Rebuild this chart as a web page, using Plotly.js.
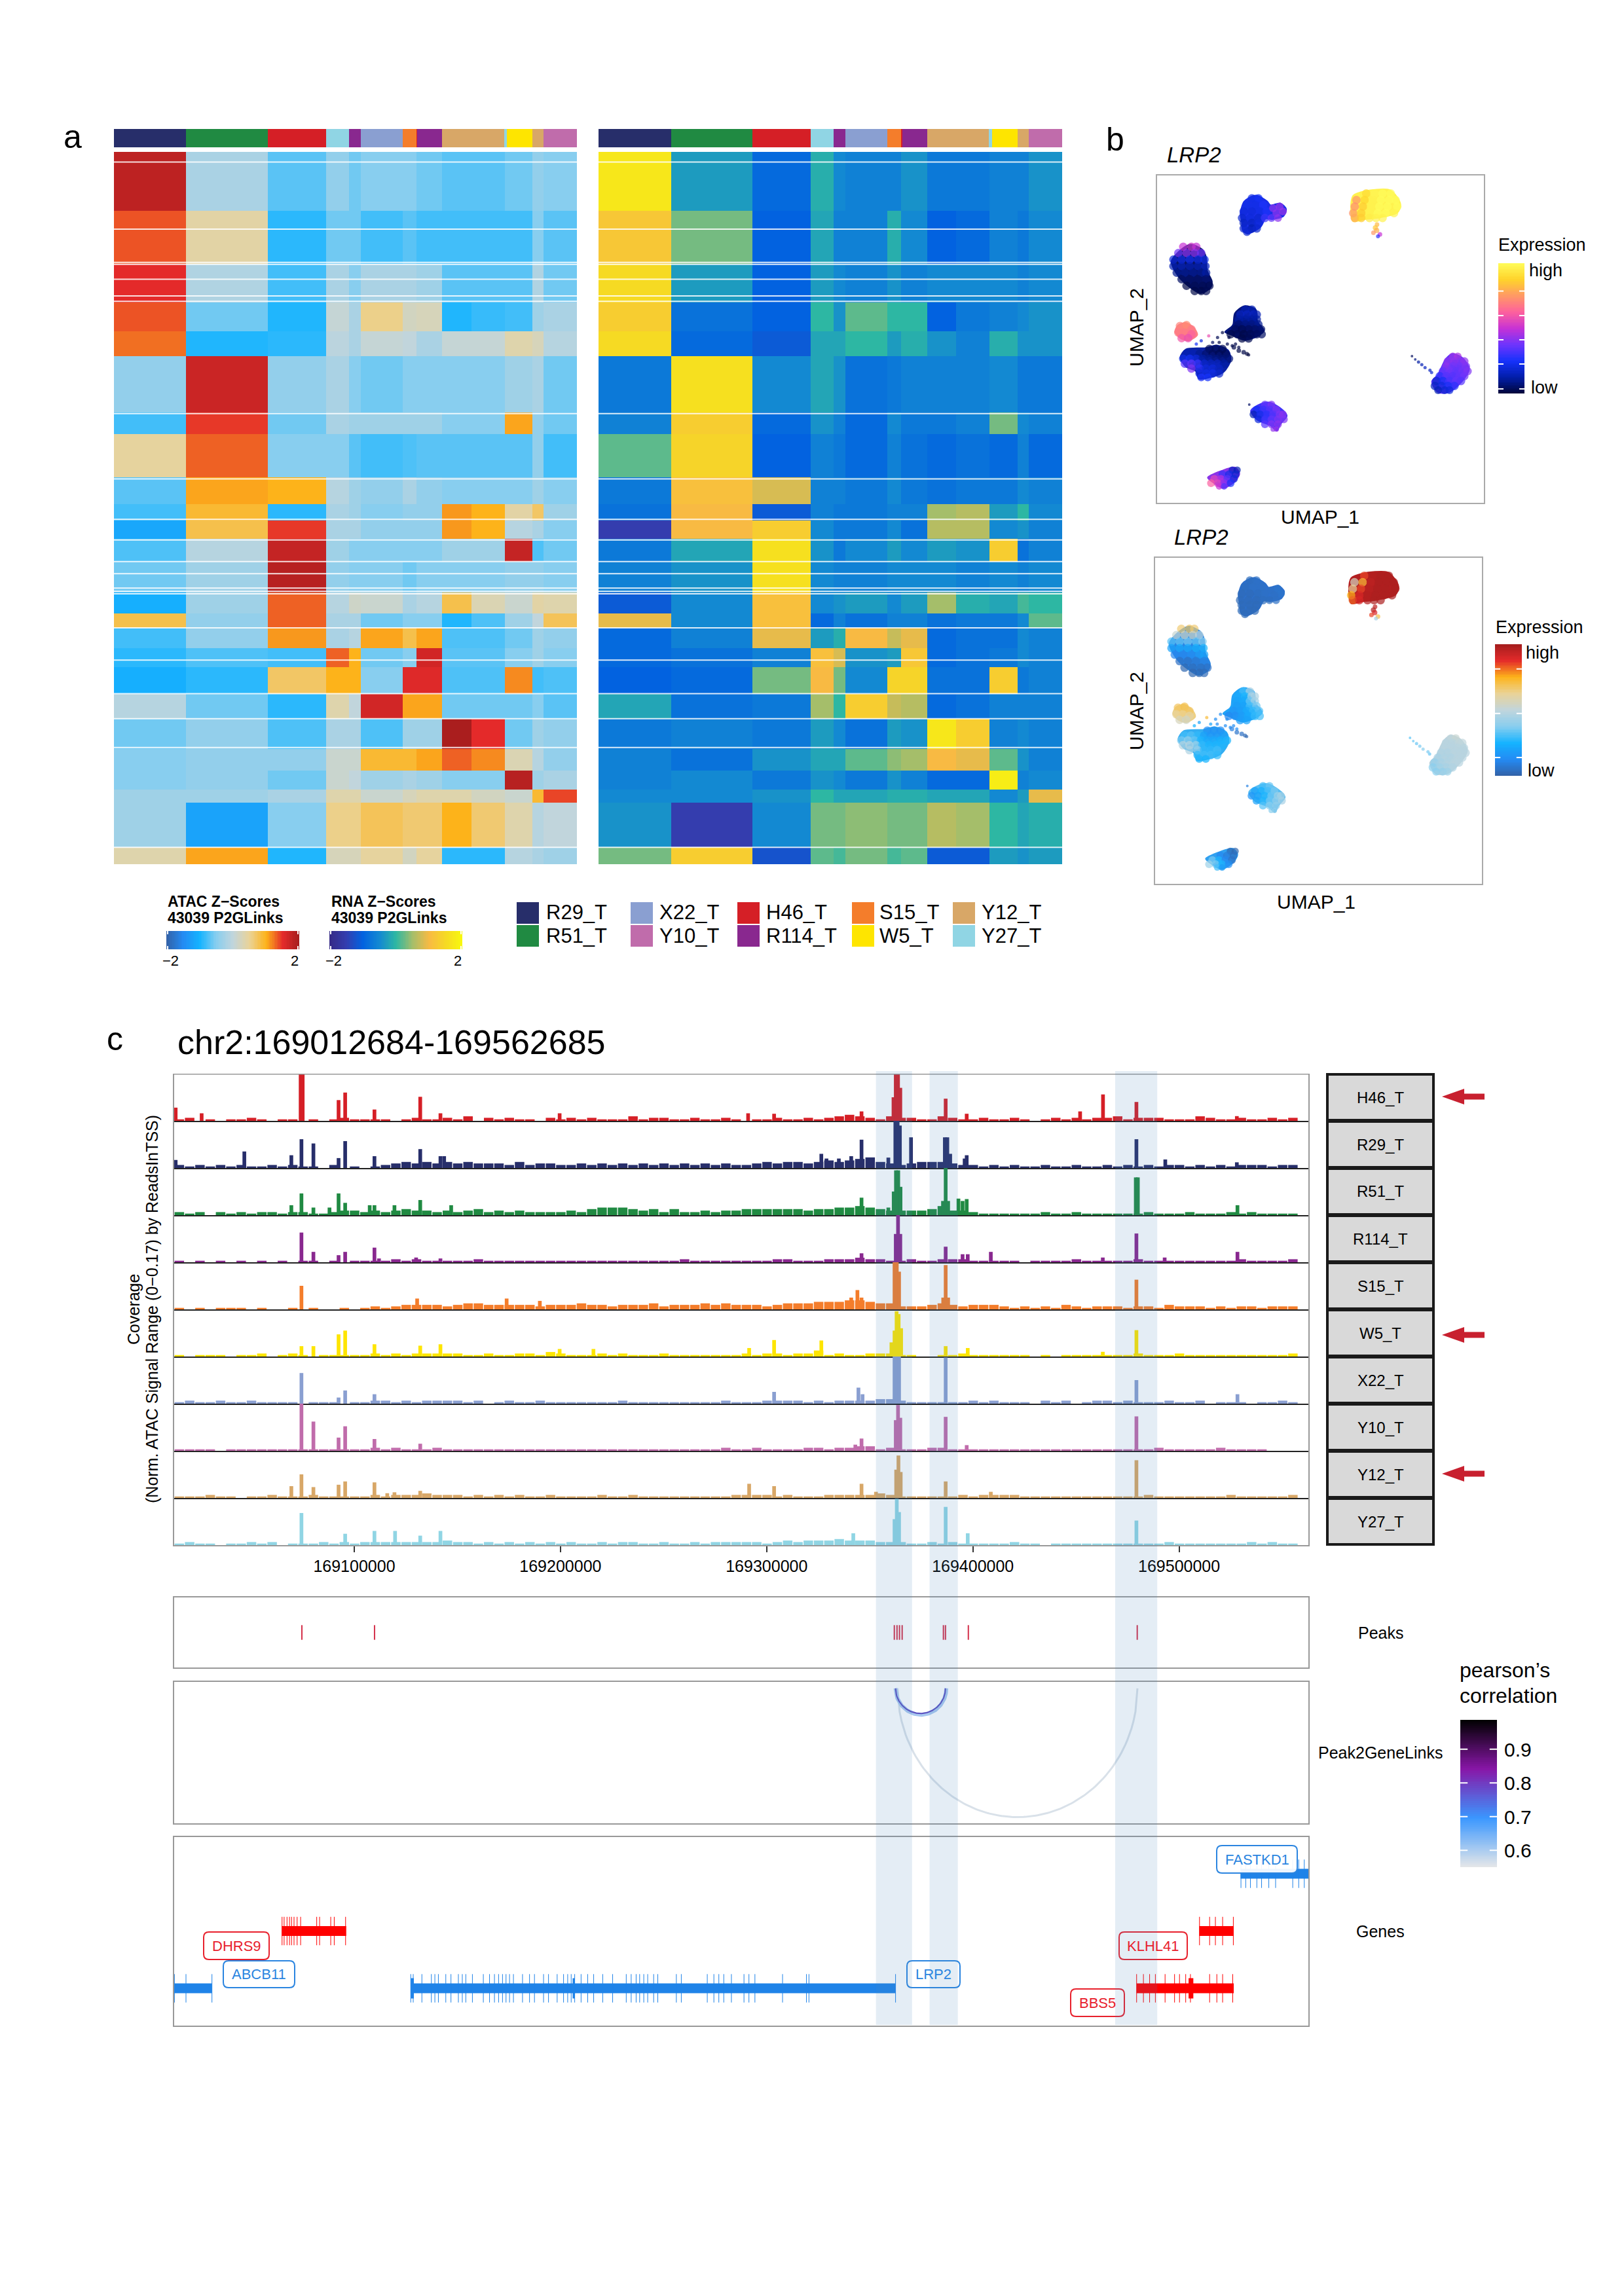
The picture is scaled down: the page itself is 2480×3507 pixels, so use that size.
<!DOCTYPE html>
<html><head><meta charset="utf-8">
<script src="https://cdn.plot.ly/plotly-3.0.1.min.js"></script>
<style>html,body{margin:0;padding:0;background:#fff}#g{width:2480px;height:3507px}</style></head>
<body><div id="g"></div>
<script>
/* ---------- samples ---------- */
const sampleNames=['R29_T','R51_T','X22_T','Y10_T','H46_T','R114_T','S15_T','W5_T','Y12_T','Y27_T'];
const sampleColors=['#272E6A','#208A42','#8A9FD1','#C06CAB','#D51F26','#89288F','#F47D2B','#FEE500','#D8A767','#90D5E4'];
/* ---------- panel a: column annotation ---------- */
const annotWidths=[117,132,94,37,19,68,22,2,40,100,5,41,18,54];
const annotSamples=[0,1,4,9,5,2,6,4,5,8,9,7,8,3];
const heatColWidths=[117,132,94,37,19,68,22,42,47,54,45,18,54];
const heatRowEdges=[57,180,290,370,430,482,600,645,735,790,825,862,910,975,1018,1048,1090,1130,1185,1237,1300,1345,1385,1412,1505,1540];
const heatGaps=[78,218,287,291,322,357,368,602,738,822,865,910,935,965,972,977,1048,1115,1185,1237,1297,1505];
const atacZ=[
[1.8,-.2,-.7,-.4,-.6,-.5,-.5,-.6,-.7,-.7,-.6,-.4,-.5],
[1.35,.4,-.9,-.6,-.6,-.8,-.7,-.8,-.8,-.8,-.8,-.5,-.7],
[1.5,-.15,-.8,-.2,-.5,-.2,-.2,-.3,-.7,-.7,-.7,-.15,-.6],
[1.35,-.6,-.95,.05,-.2,.55,.2,.25,-.95,-.85,-.8,-.3,-.2],
[1.25,-.95,-.9,-.05,-.2,.05,0,-.2,.05,.05,.35,.25,-.1],
[-.4,1.7,-.4,-.2,-.5,-.6,-.5,-.5,-.5,-.5,-.3,-.2,-.6],
[-.8,1.45,-.6,-.2,-.3,-.3,-.3,-.3,-.5,-.5,1.05,-.4,-.6],
[.45,1.3,-.5,-.5,-.7,-.8,-.75,-.7,-.7,-.7,-.7,-.4,-.8],
[-.7,1.05,1,-.1,-.3,-.4,-.2,-.4,-.5,-.5,-.5,-.3,-.5],
[-.8,.9,-.9,-.2,-.3,-.5,-.4,-.4,1.1,1,.4,.7,-.3],
[-1.15,.8,1.45,-.2,-.2,-.4,-.4,-.4,1.1,1,-.1,-.2,-.5],
[-.75,-.1,1.75,-.3,-.5,-.5,-.5,-.5,-.3,-.3,1.75,-.75,-.6],
[-.6,-.3,1.85,-.4,-.5,-.5,-.6,-.5,-.5,-.5,-.4,-.4,-.5],
[-1.05,-.3,1.3,-.1,.15,.1,-.2,-.1,.8,.3,.1,.4,.35],
[.8,-.4,1.3,-.2,-.2,-.6,-.5,-.5,-.95,-.75,-.3,0,.75],
[-.8,-.4,1.1,-.2,-.1,1.05,.8,1.05,-.75,-.75,-.6,-.3,-.4],
[-.9,-.75,-.8,1.3,1,-.6,-.5,1.65,-.7,-.7,-.5,-.3,-.5],
[-1.05,-.9,.7,1,1,-.5,1.55,1.55,-.75,-.75,1.15,-.8,-.75],
[-.1,-.6,-.9,.35,0,1.65,1.05,1.05,-.6,-.6,-.6,-.5,-.7],
[-.6,-.4,-.75,-.2,-.2,-.75,-.3,-.3,1.95,1.5,-.6,-.3,-.4],
[-.5,-.4,-.4,.1,.1,.9,.9,1.05,1.3,1.15,.3,-.1,-.4],
[-.5,-.4,-.6,.1,0,-.3,-.2,-.3,-.5,-.5,1.85,-.3,-.2],
[-.3,-.3,-.2,.35,.35,.1,.25,.35,.35,.2,.1,.9,1.4],
[-.3,-1.2,-.5,.55,.55,.75,.65,.65,1,.65,.35,-.1,0],
[.35,1.05,-.95,.25,.25,.45,.2,.45,-.9,-.9,-.1,-.2,-.3]];
const rnaZ=[
[1.7,-.3,-.9,-.1,-.5,-.6,-.6,-.4,-.7,-.7,-.6,-.6,-.4],
[1.2,.3,-1,-.2,-.6,-.6,-.1,-.5,-1,-.9,-.6,-.7,-.5],
[1.5,-.3,-1,-.3,-.5,-.6,-.4,-.6,-.5,-.5,-.5,-.6,-.5],
[1.3,-.8,-1,0,-.4,.2,0,0,-1,-.7,-.6,-.5,-.4],
[1.5,-.9,-1.1,-.2,-.2,0,-.3,-.1,-.4,-.6,-.1,-.4,-.4],
[-.7,1.6,-.5,-.2,-.4,-.8,-.7,-.6,-.6,-.6,-.5,-.7,-.7],
[-.6,1.3,-.9,-.4,-.6,-.9,-.5,-.7,-.7,-.6,.3,-.5,-.6],
[.2,1.4,-1,-.6,-.7,-.9,-.6,-.8,-.9,-.8,-.9,-.6,-.9],
[-.7,1.1,.8,-.6,-.6,-.7,-.5,-.7,-.8,-.7,-.7,-.5,-.6],
[-.8,1,-1.1,-.6,-.7,-.7,-.6,-.6,.5,.6,-.3,0,-.5],
[-1.5,1,1.3,-.5,-.7,-.7,-.5,-.8,.6,.6,-.5,-.4,-.6],
[-.7,-.2,1.6,-.4,-.7,-.5,-.3,-.5,-.3,-.4,1.3,-.8,-.6],
[-.6,-.4,1.6,-.5,-.6,-.6,-.5,-.5,-.5,-.6,-.5,-.6,-.5],
[-1.1,-.5,1.1,-.5,-.4,-.3,-.5,-.3,.5,-.1,-.2,.1,0],
[.9,-.5,1.1,-.9,-.6,-.8,-.6,-.6,-.8,-.7,-.7,-.5,.2],
[-.9,-.6,.9,-.3,-.1,1,.7,.9,-.9,-.8,-.8,-.5,-.6],
[-.9,-.8,-.6,1.1,.8,-.4,-.3,1.2,-.9,-.8,-.7,-.5,-.6],
[-1,-.9,.3,1,.3,-.5,1.4,1.4,-.8,-.8,1.3,-.7,-.6],
[-.2,-.8,-.7,.5,0,1.3,.7,.6,-.9,-.8,-.6,-.6,-.6],
[-.7,-.6,-.7,-.3,-.5,-.8,-.3,-.4,1.7,1.3,-.6,-.5,-.6],
[-.6,-.8,-.4,-.2,-.2,.2,.4,.5,1,.9,.2,-.4,-.6],
[-.6,-.5,-.7,-.4,-.5,-.7,-.4,-.6,-.9,-.9,1.8,-.6,-.5],
[-.5,-.5,-.4,0,-.2,-.2,-.1,-.1,-.2,-.2,-.5,-.3,.9],
[-.4,-1.5,-.5,.3,.3,.4,.3,.3,.6,.5,0,-.2,-.1],
[.3,1.3,-1.2,.2,.1,.3,.1,.2,-1.1,-1.1,-.3,-.4,-.3]];
const solarExtra=['#3361A5','#248AF3','#14B3FF','#88CEEF','#C1D5DC','#EAD397','#FDB31A','#E42A2A','#A31D1D'];
const blueYellow=['#352A86','#343DAE','#0262E0','#1389D2','#2DB7A3','#A5BE6A','#F8BA43','#F6DA23','#F8FA0D'];
const horizonExtra=['#000436','#021EA9','#1632FB','#6E34FC','#C732D5','#FD619D','#FF9965','#FFD32B','#FFFC5A'];
const comet=['#E6E7E8','#3A97FF','#8816A7','#000000'];
/* ---------- panel b: UMAP cluster outlines ---------- */
const clusterX=[
[59.3,60,63.5,71,73.5,74.5,73.5,68.5,63.5,60],
[25.5,26.7,30.2,33.7,34.7,37.7,39.5,38.7,35.2,33.2,31.7,27.7,26.2,25.9],
[4.4,7.4,10.3,13.8,15,15.3,16.8,16.3,13.3,9.8,6.4],
[5.5,6.4,8.8,11.3,12.3,9.8,7.4],
[23.3,23.8,26.7,30.2,30.7,32.7,30.7,26.7,22.8,20.8,22.8],
[7.1,8.8,14.8,18.3,21.8,22.5,20.3,15.3,12.8,11.8,8.8],
[84.1,85.9,88.4,90.4,93.3,95.5,93.3,89.4,85.9],
[28.7,31.7,34.7,38.7,39.7,37.7,36.7,34.7,30.7],
[15.5,19.8,23.8,25.2,23.8,20.3,17.3]];
const clusterY=[
[89.7,93.8,95.2,95.6,93.3,90.9,88.6,87.2,86.6,86],
[88.4,92.1,93.9,92.1,90.9,91.5,89.7,87.6,86.6,86.8,84.3,82.2,83.2,86],
[73.8,77.4,78.9,77.4,75,70.9,67.6,65.6,64,66,69.3],
[52.2,54.2,55,53.4,51.3,49.6,50.1],
[54.6,57.9,60.1,59,55.4,52.6,50.9,49.7,51.3,52.2,53.8],
[44.4,46.9,47.3,48.1,46.5,43.6,39.9,38.1,37.9,40.3,41.6],
[37.1,39.1,44,45.5,44.4,40.8,37.1,33.8,33.8],
[28.1,30.2,30.6,28.1,26.5,24,22,23.6,25.3],
[7.7,9.8,10.8,9,6.5,4.5,6.1]];
const clusterHorizon=['#fff24e','#1a2fe8','#071468','#fd7f84','#04157c','#0b22a6','#5a34f8','#4034f8','#8a34e8'];
const clusterSolar=['#b21f20','#2d70cc','#2a86e4','#eed084','#22a4f8','#34aef2','#bcd2dc','#58bdf2','#30a0f0'];
/* ---------- panel b: expression sampled over the clusters ---------- */
const umapX=[64,66.5,69,71.5, 61,63.5,66,68.5,71,73, 60.5,63,65.5,68,70.5,73.5, 60,62.5,65,67.5,70,72.5, 60.5,62.5,65,67,69,
 67.3,66.8,67.2,66.2,68.2,67.6,
 29,31, 27.5,30,32.5, 26.5,29,31.5,33.5, 26,28.5,31,33, 26.5,29,31, 26.5,29,30.5, 27.5, 35.5,37.5,38.5,36.5,35,37,
 8,10.5,12, 6.5,9,11.5,13.5, 5,7.5,10,12.5,14.5, 5,7.5,10,12.5,14.8, 6,8.5,11,13.5,15, 7.5,10,12.5,15, 9,11.5,14,16, 11.5,13.5,15,
 7,9,10.5,6.5,8.5,10.5,7.5,9.5,
 27,29, 25.5,27.5,29.5,30.5, 25,27,29,30.5, 25,27,29,31, 24,26,28,30,31.8, 22.5,24.5,26.5,28.5,30.5,32, 26,28,
 20,18.5,22,19,21.5,17,23,24,25,23.5,25,26.5,27.5,28,15.8,13.5,12,
 16,18,20, 9,11,13,15,17,19,21, 8,10,12,14,16,18,20,22, 8.5,10.5,12.5,14.5,16.5,18.5,20.5, 10.5,13,15,17,19, 13,15,17,19, 13.5,15.5,
 90.5,92, 89,91,93,94, 88.5,90.5,92.5,94.5, 87.5,89.5,91.5,93.5,95, 86.5,88.5,90.5,92.5,94, 85.5,87.5,89.5,91.5,93, 85,87,89,91, 86,88,89.5,
 78,79,80,81,82,83.5,84,
 33,35, 30.5,32.5,34.5,36.5, 29.5,31.5,33.5,35.5,37.5,38.5, 31,33,35,37,38.8, 33,35,37, 35.5,36.5, 28.2,
 23,24.5, 20,22,24, 17.5,19.5,21.5,23.5, 16.5,18.5,20.5,22.5, 19,20.5];
const umapY=[94.5,94.5,94.5,94.5, 92.5,92.5,92.5,92.5,92.5,92.5, 90.5,90.5,90.5,90.5,90.5,90.5, 88.5,88.5,88.5,88.5,88.5,88.5, 87,87,87,87,87,
 85,84,83.2,82.5,82,81.4,
 93,93, 91,91,91, 89,89,89,89, 87,87,87,87, 85.5,85.5,85.5, 83.8,83.8,83.8, 82.7, 90,90.5,89,88.5,87,87,
 78.2,78.2,78.2, 76.3,76.3,76.3,76.3, 74.3,74.3,74.3,74.3,74.3, 72.3,72.3,72.3,72.3,72.3, 70.3,70.3,70.3,70.3,70.3, 68.3,68.3,68.3,68.3, 66.3,66.3,66.3,66.3, 64.7,64.7,64.7,
 54,54.3,53,52,52,51.5,50.3,50.3,
 59,59, 57.5,57.5,57.5,57.5, 56,56,56,56, 54.5,54.5,54.5,54.5, 53,53,53,53,53, 51.5,51.5,51.5,51.5,51.5,51.5, 50.2,50.2,
 52,50.5,50.5,49,48.5,49,48,48.5,47.5,47.5,46.5,46,45.5,45.2,51,49.5,48.5,
 47,47,47, 45.5,45.5,45.5,45.5,45.5,45.5,45.5, 44,44,44,44,44,44,44,44, 42.5,42.5,42.5,42.5,42.5,42.5,42.5, 41,41,41,41,41, 39.5,39.5,39.5,39.5, 38.3,38.3,
 44.7,44.7, 43.2,43.2,43.2,43.2, 41.7,41.7,41.7,41.7, 40.2,40.2,40.2,40.2,40.2, 38.7,38.7,38.7,38.7,38.7, 37.2,37.2,37.2,37.2,37.2, 35.7,35.7,35.7,35.7, 34.4,34.4,34.4,
 44.8,43.8,43,42.2,41.3,40.5,39.8,
 30,30, 28.5,28.5,28.5,28.5, 27,27,27,27,27,27, 25.5,25.5,25.5,25.5,25.5, 24,24,24, 22.5,22.5, 30,
 10,10, 8.7,8.7,8.7, 7.3,7.3,7.3,7.3, 6,6,6,6, 5,5];
const umapSize=[13,13,13,13, 13,13,13,13,13,13, 13,13,13,13,13,13, 13,13,13,13,13,13, 13,13,13,13,13,
 7,8,8,7,7,6,
 13,13, 13,13,13, 13,13,13,13, 13,13,13,13, 13,13,13, 13,13,13, 12, 12,12,12,12,12,12,
 13,13,13, 13,13,13,13, 13,13,13,13,13, 13,13,13,13,13, 13,13,13,13,13, 13,13,13,13, 13,13,13,13, 13,13,13,
 13,13,13,13,13,13,13,13,
 13,13, 13,13,13,13, 13,13,13,13, 13,13,13,13, 13,13,13,13,13, 13,13,13,13,13,13, 13,13,
 5,5,5,5,5,5,5,5,5,7,7,7,6,5,5,5,5,
 13,13,13, 13,13,13,13,13,13,13, 13,13,13,13,13,13,13,13, 13,13,13,13,13,13,13, 13,13,13,13,13, 13,13,13,13, 12,12,
 12,12, 13,13,13,13, 13,13,13,13, 13,13,13,13,13, 13,13,13,13,13, 13,13,13,13,13, 13,13,13,13, 12,12,12,
 4,4,5,5,5,5,5,
 12,12, 12,12,12,12, 12,12,12,12,12,12, 12,12,12,12,12, 12,12,12, 8,8, 4,
 11,11, 12,12,12, 12,12,12,12, 12,12,12,12, 10,10];
const exprHorizon=[.9,.98,1,1, .74,.88,.97,1,1,1, .72,.86,.97,1,1,1, .74,.86,.97,1,1,.98, .78,.86,.95,.97,.97,
 .82,.85,.8,.75,.5,.28,
 .22,.24, .22,.22,.26, .2,.2,.22,.26, .18,.2,.18,.3, .16,.16,.2, .18,.14,.18, .18, .42,.44,.44,.42,.36,.42,
 .5,.52,.5, .38,.42,.42,.38, .2,.22,.24,.22,.22, .14,.15,.14,.14,.16, .1,.1,.1,.1,.12, .05,.05,.05,.06, .02,.03,.03,.03, .02,.02,.03,
 .7,.72,.68,.68,.68,.62,.6,.58,
 .14,.14, .16,.16,.16,.14, .12,.12,.12,.12, .06,.08,.08,.1, .04,.03,.04,.05,.06, .02,.03,.02,.03,.04,.05, .02,.03,
 .02,.03,.02,.02,.03,.05,.02,.02,.02,.02,.02,.02,.01,.01,.58,.2,.25,
 .03,.03,.03, .14,.14,.1,.06,.04,.03,.03, .22,.24,.2,.12,.1,.08,.07,.07, .34,.36,.3,.18,.16,.16,.12, .4,.28,.2,.2,.16, .2,.22,.22,.18, .26,.25,
 .44,.46, .42,.42,.4,.42, .42,.38,.38,.4, .36,.38,.36,.38,.4, .28,.34,.34,.36,.38, .18,.24,.32,.36,.34, .16,.2,.24,.28, .14,.18,.2,
 .04,.08,.12,.14,.16,.16,.18,
 .36,.4, .24,.3,.34,.4, .14,.22,.28,.34,.4,.42, .2,.3,.36,.4,.4, .34,.4,.42, .42,.44, .05,
 .16,.14, .3,.22,.18, .56,.48,.34,.2, .62,.56,.42,.26, .5,.34];
const exprSolar=[.85,.97,.98,.98, .55,.72,.95,.98,.98,.98, .62,.85,.96,.98,.98,.98, .75,.9,.97,.98,.98,.98, .82,.9,.97,.98,.98,
 .95,.97,.9,.85,.7,.45,
 .04,.05, .04,.05,.05, .03,.03,.04,.05, .03,.03,.03,.04, .03,.03,.03, .03,.03,.03, .03, .05,.06,.06,.05,.04,.05,
 .66,.68,.66, .52,.54,.54,.5, .32,.34,.36,.34,.38, .2,.22,.22,.24,.26, .12,.12,.14,.18,.2, .05,.05,.07,.1, .02,.03,.04,.05, .02,.02,.03,
 .68,.7,.68,.62,.64,.6,.56,.54,
 .3,.46, .22,.26,.44,.46, .2,.22,.34,.44, .18,.2,.3,.36, .16,.18,.22,.28,.32, .12,.14,.18,.22,.28,.3, .18,.2,
 .14,.14,.14,.14,.14,.2,.14,.14,.14,.1,.06,.05,.03,.02,.72,.2,.25,
 .14,.14,.14, .3,.32,.28,.2,.16,.16,.18, .36,.4,.34,.26,.22,.22,.24,.26, .48,.48,.42,.28,.26,.26,.26, .46,.4,.28,.28,.3, .28,.3,.3,.28, .26,.25,
 .5,.52, .48,.48,.5,.5, .48,.48,.48,.48, .46,.46,.48,.48,.48, .44,.46,.46,.48,.48, .4,.44,.46,.48,.48, .38,.42,.44,.46, .38,.4,.42,
 .32,.34,.34,.36,.38,.36,.34,
 .3,.34, .2,.24,.3,.36, .16,.2,.26,.34,.42,.44, .2,.26,.34,.4,.44, .32,.38,.4, .38,.4, .1,
 .02,.02, .12,.08,.04, .36,.26,.12,.05, .42,.36,.26,.14, .3,.18];
/* ---------- panel c: coverage tracks ---------- */
const chromStart=169012684, chromEnd=169562685, kbOrigin=169000000;
const trackOrder=['H46_T','R29_T','R51_T','R114_T','S15_T','W5_T','X22_T','Y10_T','Y12_T','Y27_T'];
const trackColors=['#D51F26','#272E6A','#208A42','#89288F','#F47D2B','#FEE500','#8A9FD1','#C06CAB','#D8A767','#90D5E4'];
const trackFloor=[
'1201011210110101211110121121302121102121211131221121121011211212343213221132112112101212122312221113211211212',
'2121212112121102010123434343433324233223232323232323232234344345456743234443221212112112112121212212121222122',
'2120212122122112332323433232342323222232455543424223233444444344556543333463321111112112111111211121112121111',
'1010101010101101011112121111121111111111111111111211111111221112223221121122211111011112111112111111111211112',
'1010111010010100101212333323443333323334332333423334343332344455566544222343233321212132122212213222121221222',
'1011101120121011111212122222112112213211121211121111111212212241211222110011211111101011111112111211111111112',
'1211211211110111011221212222120121121111111211111111121112222121222233211111121211102120122121112112011101121',
'1111011111111111111212111211111111111111111111111111121121111221223312111221111111111111111111121111121111',
'1112110112111211111212223222121212112111121121111111112222121112222232111111212222111111111111211111112111112',
'1211011212011121212222222232212121212121121221121121222221232333433322211212111112110111111111112111111121211'];
const spikePos=[
[13.4,26,74,75,92.4,95.6,109.8,132,141.8,199.6,291,303.6,346,361.5,362.6,363.7,364.8,386.8,397,452,463.1,479.3,528],
[13.4,46.7,69.5,74.4,80.2,92.4,95.6,109.8,132,141.8,143.6,326.5,329,335,341,346,359,362.4,363.5,364.6,370,386.4,387.6,389,396,397,479.3,493.3,528],
[69.5,74.4,80.2,88,92.4,95.6,107.5,109.8,119.5,132,147,336,346,359,361.6,362.7,363.8,364.9,385.5,386.8,388,393,395,397,479,480,528.3],
[74.4,80.2,92.4,95.6,109.8,112,130,141.8,346,362.6,363.7,364.8,386.8,395,397.5,408.7,463,479.3,493,528.3],
[74.4,130.5,173.9,190,341,344,346,362,363.1,364.2,385.6,386.8,388,479.3],
[74.4,80.2,92.4,95.6,109.8,132,141.8,199.6,216,291.5,303.6,326.5,360.5,362,363,364,365.2,386.8,397.5,463,479.3],
[74.4,92.4,95.6,109.8,303.6,344.5,346.5,362,363.1,364.2,386.8,479.3,528.3],
[74.4,80.2,92.4,95.6,109.8,132,343,346,362.6,363.7,364.8,386.8,397,479.3],
[69.5,74.4,80.2,92.4,95.6,109.8,116,119.5,132,291.5,303.6,346,353,362.8,363.9,365,386.8,408.7,479.3],
[74.4,95.6,109.8,119.8,132,141.8,342,362,363.1,364.2,386.8,397.5,479.3]];
const spikeVal=[
[.28,.16,1,1,.44,.6,.24,.51,.16,.16,.16,.15,.2,.5,1,1,.7,.47,.15,.2,.56,.4,.1],
[.17,.35,.27,.61,.52,.21,.57,.25,.4,.25,.25,.3,.2,.2,.25,.6,.22,1,1,.9,.65,.65,.65,.3,.2,.27,.61,.18,.12],
[.21,.46,.16,.16,.46,.26,.21,.21,.21,.32,.21,.12,.37,.16,.5,.95,.95,.6,.3,1,.3,.35,.3,.34,.8,.8,.21],
[.63,.22,.15,.22,.31,.08,.1,.08,.19,.6,1,.6,.33,.17,.17,.22,.1,.61,.1,.22],
[.5,.23,.23,.18,.25,.41,.25,1,1,.8,.25,.94,.25,.63],
[.22,.22,.47,.55,.26,.23,.26,.16,.16,.18,.35,.34,.3,.55,.96,.9,.6,.22,.18,.1,.56],
[.65,.13,.28,.2,.25,.34,.2,1,1,1,.98,.5,.2],
[1,.62,.28,.52,.25,.15,.13,.26,.65,.97,.7,.72,.12,.73],
[.25,.5,.23,.28,.35,.33,.1,.12,.15,.3,.25,.3,.13,.6,.9,.55,.35,.13,.8],
[.68,.24,.3,.3,.2,.3,.25,.55,.98,.7,.81,.25,.52]];
const tickPositions=[169100000,169200000,169300000,169400000,169500000];
const highlightStart=[169353000,169379000,169469000];
const highlightEnd=[169370500,169392700,169489400];
const arrowCentres=[1675,2039,2251];
const peakPositions=[169074600,169109840,169361900,169363200,169364400,169365700,169385700,169386700,169397800,169479700];
const linkStart=[169363500,169362500,169362500];
const linkEnd=[169479800,169387100,169386700];
const linkDepth=[1,.205,.195];
const linkColor=['#d9e1e9','#a8c8f0','#5b4ec0'];
const linkWidth=[3,6,2];
const geneNames=['ABCB11','LRP2','DHRS9','KLHL41','BBS5','FASTKD1'];
const geneStart=[12.684,127.4,64.8,509.8,479.4,529.8];
const geneEnd=[31,362.5,96.1,526.4,526.5,562.685];
const geneLane=[1,1,2,2,1,3];
const geneStrandRed=[false,false,true,true,true,false];
const geneExons=[
[12.8,18.4,31],
[127.4,128.6,132.8,137.4,139.1,140.8,144.4,146.9,150.5,152.4,154.1,157.3,162.6,165.6,168,170,171.9,173.6,175.3,177.2,181.6,185,187.4,191.8,194.2,198.4,201.5,203.5,205.2,206.9,210,213.2,216.1,220.5,225.3,231.9,234.3,236.7,238.4,240.4,242.3,245.2,247.2,256.2,258.6,271.2,274.4,276.8,279.2,282.9,289,291.4,294.3,307.7,319.3,320.5,362.5],
[65,66,67.4,68.6,69.6,70.8,72.3,74,81.8,83.2,88.6,90.3,95.8],
[509.9,514.8,517.6,521.1,526.3],
[479.4,482.7,485.7,488.5,493.2,497.8,500.2,503.2,505.5,514.8,518.3,521.1,526],
[530,532.3,534.6,537.7,540,543.5,546.8,555.1,558,560.7]];
const thickExonStart=[127.4,205.9,504.6];
const thickExonEnd=[128.9,207,506.9];
const thickExonGene=[1,1,4];
const geneLabelBoxes=[[341,2995,450,3036],[1385,2995,1466,3036],[311,2951,411,2993],[1709,2951,1813,2993],[1635,3038,1717,3080],[1858,2819,1981,2861]];
const pearsonTicks=[.6,.7,.8,.9];

/* ---------- page helpers ---------- */
const W=2480,H=3507,FONT='"Liberation Sans",Arial,sans-serif';
const px=v=>v/W, py=v=>1-v/H;
const layout={width:W,height:H,margin:{l:0,r:0,t:0,b:0},paper_bgcolor:'#fff',plot_bgcolor:'rgba(0,0,0,0)',showlegend:false,barmode:'overlay',font:{family:FONT,color:'#000'},shapes:[],annotations:[]};
const data=[];
let axN=0;
const bare={showgrid:false,zeroline:false,showticklabels:false,ticks:'',showline:false,fixedrange:true};
function panel(x0,x1,y0,y1,xo,yo){
  axN++;const s=axN===1?'':axN;
  layout['xaxis'+s]=Object.assign({},bare,{domain:[px(x0),px(x1)],anchor:'y'+s},xo||{});
  layout['yaxis'+s]=Object.assign({},bare,{domain:[py(y1),py(y0)],anchor:'x'+s},yo||{});
  return {x:'x'+s,y:'y'+s};
}
function txt(x,y,t,size,o){layout.annotations.push(Object.assign({xref:'paper',yref:'paper',x:px(x),y:py(y),text:t,showarrow:false,xanchor:'left',yanchor:'middle',font:{size:size,family:FONT,color:'#000'},borderpad:0},o||{}));}
function scale(cols){return cols.map((c,i)=>[i/(cols.length-1),c]);}
function cum(w){const e=[0];w.forEach(v=>e.push(e[e.length-1]+v));return e;}
function roundRect(x0,y0,x1,y1,r){const a=px(x0),b=px(x1),c=py(y0),d=py(y1),rx=r/W,ry=r/H;
  return `M${a+rx},${c}L${b-rx},${c}Q${b},${c} ${b},${c-ry}L${b},${d+ry}Q${b},${d} ${b-rx},${d}L${a+rx},${d}Q${a},${d} ${a},${d+ry}L${a},${c-ry}Q${a},${c} ${a+rx},${c}Z`;}
function pageRect(x0,y0,x1,y1,style){layout.shapes.push(Object.assign({type:'rect',xref:'paper',yref:'paper',x0:px(x0),x1:px(x1),y0:py(y0),y1:py(y1),line:{width:0}},style));}
function linspace(a,b,n){return Array.from({length:n},(_,i)=>a+(b-a)*i/(n-1));}
function gradientBar(x0,x1,y0,y1,cols,lo,hi,vertical){
  const vals=linspace(lo,hi,80);
  const step=(hi-lo)/79;const edges=linspace(lo-step/2,hi+step/2,81);
  const a=panel(x0,x1,y0,y1,vertical?{range:[0,1]}:{range:[lo,hi]},vertical?{range:[lo,hi]}:{range:[0,1]});
  const t={type:'heatmap',xaxis:a.x,yaxis:a.y,showscale:false,hoverinfo:'skip',zmin:lo,zmax:hi,colorscale:scale(cols)};
  if(vertical){t.x=[0,1];t.y=edges;t.z=vals.map(v=>[v]);}else{t.x=edges;t.y=[0,1];t.z=[vals];}
  data.push(t);return a;
}
function barTick(a,v,vertical,len){const c='#fff';
  [[0,len],[1-len,1]].forEach(r=>{
   layout.shapes.push(vertical?{type:'line',xref:a.x+' domain',yref:a.y,x0:r[0],x1:r[1],y0:v,y1:v,line:{color:c,width:2}}
    :{type:'line',yref:a.y+' domain',xref:a.x,y0:r[0],y1:r[1],x0:v,x1:v,line:{color:c,width:2}});});
}

/* ---------- panel a ---------- */
function annotBar(x0,x1){
  const edges=cum(annotWidths),a=panel(x0,x1,197,225,{range:[0,edges[edges.length-1]]},{range:[0,1]});
  const n=sampleColors.length,cs=[];
  sampleColors.forEach((c,i)=>{cs.push([i/n,c]);cs.push([(i+1)/n,c]);});
  data.push({type:'heatmap',xaxis:a.x,yaxis:a.y,x:edges,y:[0,1],z:[annotSamples.map(s=>s+.5)],zmin:0,zmax:n,colorscale:cs,showscale:false,hoverinfo:'skip'});
}
function bigHeat(x0,x1,z,cols){
  const xe=cum(heatColWidths),a=panel(x0,x1,232,1320,{range:[0,xe[xe.length-1]]},{range:[heatRowEdges[heatRowEdges.length-1],heatRowEdges[0]]});
  data.push({type:'heatmap',xaxis:a.x,yaxis:a.y,x:xe,y:heatRowEdges,z:z,zmin:-2,zmax:2,colorscale:scale(cols),showscale:false,hoverinfo:'skip'});
  heatGaps.forEach(g=>layout.shapes.push({type:'line',xref:a.x+' domain',yref:a.y,x0:0,x1:1,y0:g,y1:g,line:{color:'rgba(255,255,255,.85)',width:2}}));
}
annotBar(174,881);annotBar(914,1622);
bigHeat(174,881,atacZ,solarExtra);bigHeat(914,1622,rnaZ,blueYellow);
txt(96,209,'a',50);txt(1688,213,'b',50);txt(162,1587,'c',50);
/* z-score legends */
const boldFont={size:23,family:FONT,color:'#000',weight:700};
txt(255,1377,'ATAC Z−Scores',23,{font:boldFont});
txt(255,1402,'43039 P2GLinks',23,{font:boldFont});
txt(505,1377,'RNA Z−Scores',23,{font:boldFont});
txt(505,1402,'43039 P2GLinks',23,{font:boldFont});
[[254,457,solarExtra],[503,706,blueYellow]].forEach(b=>{
  const a=gradientBar(b[0],b[1],1422,1450,b[2],-2,2,false);barTick(a,-1.96,false,.18);barTick(a,1.96,false,.18);
  txt(b[0]+6,1467,'−2',22,{xanchor:'center'});txt(b[1]-7,1467,'2',22,{xanchor:'center'});
});
/* sample legend */
const legendCols=[[0,1,789,833],[2,3,963,1006],[4,5,1126,1169],[6,7,1301,1342],[8,9,1455,1498]];
legendCols.forEach(c=>{
  [[c[0],1378,1411,1393],[c[1],1413,1446,1429]].forEach(r=>{
    pageRect(c[2],r[1],c[2]+34,r[2],{fillcolor:sampleColors[r[0]]});
    txt(c[3],r[3],sampleNames[r[0]],31);
  });
});

/* ---------- panel b ---------- */
function umap(x0,x1,y0,y1,expr,cols,fills){
  const fr={showline:true,mirror:true,linecolor:'#aaaaaa',linewidth:2,range:[0,100]};
  const a=panel(x0,x1,y0,y1,fr,fr);
  clusterX.forEach((cx,i)=>data.push({type:'scatter',mode:'lines',fill:'toself',xaxis:a.x,yaxis:a.y,x:cx.concat(cx[0]),y:clusterY[i].concat(clusterY[i][0]),
    line:{color:fills[i],width:2,shape:'spline',smoothing:.8},fillcolor:fills[i],hoverinfo:'skip'}));
  data.push({type:'scatter',mode:'markers',xaxis:a.x,yaxis:a.y,x:umapX,y:umapY,hoverinfo:'skip',
    marker:{size:umapSize,color:expr,cmin:0,cmax:1,colorscale:scale(cols),line:{width:0}}});
}
umap(1767,2266,268,768,exprHorizon,horizonExtra,clusterHorizon);
umap(1764,2263,852,1350,exprSolar,solarExtra,clusterSolar);
txt(1781,236,'<i>LRP2</i>',33);txt(1792,820,'<i>LRP2</i>',33);
txt(2016,790,'UMAP_1',30,{xanchor:'center'});txt(2010,1377,'UMAP_1',30,{xanchor:'center'});
txt(1735,500,'UMAP_2',30,{xanchor:'center',textangle:-90});txt(1735,1086,'UMAP_2',30,{xanchor:'center',textangle:-90});
txt(2287,374,'Expression',27);txt(2283,958,'Expression',27);
{const a=gradientBar(2288,2328,402,601,horizonExtra,0,1,true);[.786,.598,.412,.226,.035].forEach(v=>barTick(a,v,true,.2));
 txt(2334,413,'high',27);txt(2337,592,'low',27);}
{const a=gradientBar(2283,2324,984,1185,solarExtra,0,1,true);[.812,.474,.139].forEach(v=>barTick(a,v,true,.2));
 txt(2329,997,'high',27);txt(2332,1177,'low',27);}

/* ---------- panel c: tracks ---------- */
const T0=1640,TH=72;
let firstTrack=null;
trackOrder.forEach((name,k)=>{
  const top=T0+TH*k,bottom=top+TH,last=k===trackOrder.length-1;
  const xo={range:[chromStart,chromEnd],showline:true,linecolor:last?'#999':'#222',linewidth:2};
  if(last)Object.assign(xo,{showticklabels:true,ticks:'outside',ticklen:9,tickwidth:2,tickcolor:'#333',tickvals:tickPositions,ticktext:tickPositions.map(String),tickfont:{size:25,family:FONT,color:'#000'}});
  const a=panel(266,1998,top,bottom,xo,{range:[0,1],showline:true,mirror:true,linecolor:'#999',linewidth:2});
  if(!firstTrack)firstTrack=a;
  const floor=trackFloor[k].split('').map(Number);
  const xs=floor.map((_,i)=>chromStart+5000*(i+.5)),ys=floor.map(d=>d*.032);
  data.push({type:'bar',xaxis:a.x,yaxis:a.y,x:xs,y:ys,width:floor.map(()=>4600),marker:{color:trackColors[k],line:{width:0}},hoverinfo:'skip'});
  data.push({type:'bar',xaxis:a.x,yaxis:a.y,x:spikePos[k].map(p=>kbOrigin+p*1000),y:spikeVal[k],width:spikePos[k].map(()=>1800),marker:{color:trackColors[k],line:{width:0}},hoverinfo:'skip'});
  pageRect(2027,top+1,2189,bottom-1,{fillcolor:'#d9d9d9',line:{color:'#1a1a1a',width:4}});
  txt(2108,top+TH/2,name,24,{xanchor:'center'});
});
pageRect(266,T0,1998,T0+1.5,{fillcolor:'#999'});
arrowCentres.forEach(yc=>{
  const d=`M${px(2202)},${py(yc)}L${px(2236)},${py(yc-12)}L${px(2236)},${py(yc-4.5)}L${px(2267)},${py(yc-4.5)}L${px(2267)},${py(yc+4.5)}L${px(2236)},${py(yc+4.5)}L${px(2236)},${py(yc+12)}Z`;
  layout.shapes.push({type:'path',xref:'paper',yref:'paper',path:d,fillcolor:'#C8202F',line:{width:0}});
});
txt(270,1592,'chr2:169012684-169562685',52);
txt(204,2000,'Coverage',25,{xanchor:'center',textangle:-90});
txt(232,2000,'(Norm. ATAC Signal Range (0−0.17) by ReadsInTSS)',25,{xanchor:'center',textangle:-90});

/* peaks */
const boxed={showline:true,mirror:true,linecolor:'#999',linewidth:2};
{const a=panel(266,1998,2440,2547,Object.assign({range:[chromStart,chromEnd]},boxed),Object.assign({range:[0,1]},boxed));
 data.push({type:'scatter',mode:'markers',xaxis:a.x,yaxis:a.y,x:peakPositions,y:peakPositions.map(()=>.5),hoverinfo:'skip',
   marker:{symbol:'line-ns-open',size:16,color:'#d4304a',line:{width:2}}});
 txt(2108,2494,'Peaks',25,{xanchor:'center'});}
/* links: semi-elliptic arcs between link anchors */
{const a=panel(266,1998,2569,2785,Object.assign({range:[chromStart,chromEnd]},boxed),Object.assign({range:[-1.048,.05]},boxed));
 linkStart.forEach((s,i)=>{
   const t=linspace(-1,1,121),m=(s+linkEnd[i])/2,r=(linkEnd[i]-s)/2;
   data.push({type:'scatter',mode:'lines',xaxis:a.x,yaxis:a.y,x:t.map(v=>m+r*v),y:t.map(v=>-linkDepth[i]*Math.sqrt(1-v*v)),line:{color:linkColor[i],width:linkWidth[i]},hoverinfo:'skip'});
 });
 txt(2108,2677,'Peak2GeneLinks',25,{xanchor:'center'});}
/* genes */
{const a=panel(266,1998,2806,3094,Object.assign({range:[chromStart,chromEnd]},boxed),Object.assign({range:[.349,3.64]},boxed));
 geneNames.forEach((g,i)=>{
   const col=geneStrandRed[i]?'#ff0000':'#1f83e8';
   data.push({type:'scatter',mode:'lines',xaxis:a.x,yaxis:a.y,x:[kbOrigin+geneStart[i]*1000,kbOrigin+geneEnd[i]*1000],y:[geneLane[i],geneLane[i]],line:{color:col,width:15},hoverinfo:'skip'});
   data.push({type:'scatter',mode:'markers',xaxis:a.x,yaxis:a.y,x:geneExons[i].map(p=>kbOrigin+p*1000),y:geneExons[i].map(()=>geneLane[i]),hoverinfo:'skip',
     marker:{symbol:'line-ns-open',size:31,color:col,line:{width:1}}});
   const b=geneLabelBoxes[i],lc=geneStrandRed[i]?'#e8202c':'#2b85e0';
   layout.shapes.push({type:'path',xref:'paper',yref:'paper',path:roundRect(b[0],b[1],b[2],b[3],8),fillcolor:'rgba(255,255,255,.92)',line:{color:lc,width:2}});
   txt((b[0]+b[2])/2,(b[1]+b[3])/2,g,22,{xanchor:'center',font:{size:22,family:FONT,color:lc}});
 });
 thickExonStart.forEach((s,i)=>{const g=thickExonGene[i];
   data.push({type:'scatter',mode:'lines',xaxis:a.x,yaxis:a.y,x:[kbOrigin+s*1000,kbOrigin+thickExonEnd[i]*1000],y:[geneLane[g],geneLane[g]],line:{color:geneStrandRed[g]?'#ff0000':'#1f83e8',width:31},hoverinfo:'skip'});
 });
 txt(2108,2950,'Genes',25,{xanchor:'center'});}
/* highlighted windows across the tracks */
highlightStart.forEach((s,i)=>layout.shapes.push({type:'rect',xref:firstTrack.x,yref:'paper',x0:s,x1:highlightEnd[i],y0:py(3093),y1:py(1636),fillcolor:'rgba(75,135,188,.15)',line:{width:0},layer:'above'}));
/* pearson legend */
txt(2228,2551,"pearson’s",32);txt(2228,2590,'correlation',32);
{const a=gradientBar(2230,2286,2627,2852,comet,.55,.987,true);
 pearsonTicks.forEach(v=>{barTick(a,v,true,.2);txt(2296,2672+(.9-v)*515,v.toFixed(1),30);});}

Plotly.newPlot('g',data,layout,{staticPlot:true,displayModeBar:false});
</script></body></html>
